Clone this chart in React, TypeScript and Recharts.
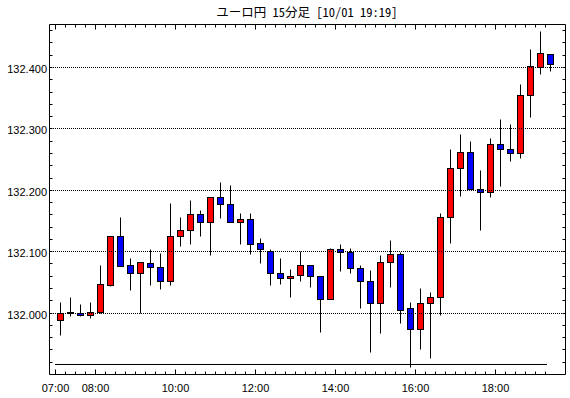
import React from 'react';
import { ComposedChart, Bar, XAxis, YAxis, ReferenceLine } from 'recharts';

const title = 'ユーロ円 15分足 [10/01 19:19]';

const times = [
  '07:00', '07:15', '07:30', '07:45', '08:00', '08:15', '08:30', '08:45', '09:00', '09:15',
  '09:30', '09:45', '10:00', '10:15', '10:30', '10:45', '11:00', '11:15', '11:30', '11:45',
  '12:00', '12:15', '12:30', '12:45', '13:00', '13:15', '13:30', '13:45', '14:00', '14:15',
  '14:30', '14:45', '15:00', '15:15', '15:30', '15:45', '16:00', '16:15', '16:30', '16:45',
  '17:00', '17:15', '17:30', '17:45', '18:00', '18:15', '18:30', '18:45', '19:00', '19:15',
];

const opens = [
  131.988, 132.001, 131.999, 131.996, 132.001, 132.045, 132.124, 132.077, 132.065, 132.080,
  132.074, 132.052, 132.124, 132.134, 132.160, 132.147, 132.189, 132.177, 132.147, 132.152,
  132.113, 132.101, 132.064, 132.056, 132.061, 132.077, 132.059, 132.022, 132.103, 132.098,
  132.072, 132.051, 132.015, 132.083, 132.095, 132.007, 131.973, 132.015, 132.025, 132.155,
  132.236, 132.262, 132.202, 132.197, 132.275, 132.267, 132.260, 132.354, 132.400, 132.421,
];
const highs = [
  132.018, 132.025, 132.014, 132.017, 132.077, 132.124, 132.155, 132.089, 132.082, 132.103,
  132.097, 132.178, 132.155, 132.183, 132.167, 132.189, 132.212, 132.207, 132.163, 132.163,
  132.121, 132.103, 132.089, 132.071, 132.100, 132.077, 132.059, 132.106, 132.111, 132.105,
  132.077, 132.069, 132.094, 132.118, 132.099, 132.018, 132.040, 132.033, 132.163, 132.267,
  132.291, 132.280, 132.232, 132.285, 132.315, 132.307, 132.372, 132.429, 132.459, 132.421,
];
const lows = [
  131.964, 131.995, 131.994, 131.992, 132.000, 132.043, 132.076, 132.037, 132.000, 132.045,
  132.039, 132.045, 132.109, 132.112, 132.125, 132.093, 132.154, 132.147, 132.112, 132.096,
  132.081, 132.045, 132.047, 132.026, 132.052, 132.041, 131.969, 132.022, 132.068, 132.065,
  132.008, 131.936, 131.966, 132.041, 131.983, 131.911, 131.940, 131.926, 131.996, 132.113,
  132.190, 132.202, 132.135, 132.189, 132.206, 132.247, 132.251, 132.318, 132.389, 132.394,
];
const closes = [
  132.000, 131.999, 131.996, 132.001, 132.046, 132.124, 132.076, 132.065, 132.082, 132.074,
  132.052, 132.124, 132.134, 132.160, 132.147, 132.189, 132.177, 132.147, 132.152, 132.112,
  132.103, 132.064, 132.057, 132.059, 132.077, 132.059, 132.022, 132.103, 132.098, 132.072,
  132.051, 132.016, 132.083, 132.095, 132.005, 131.973, 132.015, 132.025, 132.155, 132.236,
  132.262, 132.202, 132.197, 132.275, 132.267, 132.260, 132.354, 132.402, 132.423, 132.405,
];

const xTickLabels = ['07:00', '08:00', '10:00', '12:00', '14:00', '16:00', '18:00'];
const yTickLabels = ['132.000', '132.100', '132.200', '132.300', '132.400'];
const lowLine = 131.917;

const toMin = (s: string) => {
  const [h, m] = s.split(':').map(Number);
  return h * 60 + m;
};

const SLOT = 15;
const data = times.map((t, i) => ({
  t: toMin(t) + SLOT / 2,
  range: [lows[i], highs[i]],
  open: opens[i],
  high: highs[i],
  low: lows[i],
  close: closes[i],
}));

const firstMin = toMin(times[0]);
const lastMin = toMin(times[times.length - 1]);
const xDomain = [firstMin - 9, lastMin + 2 * SLOT];
const yDomain = [131.9, 132.47];

const xTicks: number[] = times.map((t) => toMin(t));
const xMajor = new Set(xTickLabels.map(toMin));
const yTicks: number[] = [];
for (let k = 13192; k <= 13246; k += 2) yTicks.push(k / 100);
const yMajor = new Set(yTickLabels.map((s) => Math.round(parseFloat(s) * 100)));

const snap = (v: number) => Math.round(v - 0.5) + 0.5;
const FONT = '"Liberation Sans", Arial, sans-serif';

const fmtMin = (m: number) => {
  const h = Math.floor(m / 60);
  const mm = m % 60;
  return `${String(h).padStart(2, '0')}:${String(mm).padStart(2, '0')}`;
};

const BottomTick = (props: any) => {
  const { x, y, payload } = props;
  const v = payload.value;
  const major = xMajor.has(v);
  const cx = snap(x);
  const cy = snap(y);
  return (
    <g>
      <line x1={cx} x2={cx} y1={cy} y2={cy - (major ? 5 : 3)} stroke="#000" />
      {major && (
        <text x={cx} y={cy + 17.5} textAnchor="middle" fontSize={11} fontFamily={FONT} fill="#000">
          {fmtMin(v)}
        </text>
      )}
    </g>
  );
};

const TopTick = (props: any) => {
  const { x, y, payload } = props;
  const major = xMajor.has(payload.value);
  const cx = snap(x);
  const cy = snap(y);
  return <line x1={cx} x2={cx} y1={cy} y2={cy + (major ? 5 : 3)} stroke="#000" />;
};

const LeftTick = (props: any) => {
  const { x, y, payload } = props;
  const v = payload.value;
  const major = yMajor.has(Math.round(v * 100));
  const cy = snap(y);
  const cx = snap(x);
  return (
    <g>
      <line x1={cx} x2={cx + 3} y1={cy} y2={cy} stroke="#000" />
      {major && (
        <text x={cx - 2.5} y={cy + 5} textAnchor="end" fontSize={11} fontFamily={FONT} fill="#000">
          {v.toFixed(3)}
        </text>
      )}
    </g>
  );
};

const RightTick = (props: any) => {
  const { x, y } = props;
  const cy = snap(y);
  const cx = snap(x);
  return <line x1={cx} x2={cx - 3} y1={cy} y2={cy} stroke="#000" />;
};

const GridShape = (p: any) => {
  const y = snap(p.y1);
  return <line x1={Math.round(p.x1) + 1} x2={Math.round(p.x2)} y1={y} y2={y} stroke="#000" strokeDasharray="1 1" />;
};

const FlatShape = (p: any) => {
  const y = snap(p.y1);
  return <line x1={Math.round(p.x1)} x2={Math.round(p.x2) + 1} y1={y} y2={y} stroke="#000" />;
};

const Candle = (props: any) => {
  const { x, y, width, height } = props;
  const p = props.payload || props;
  if (p == null || p.high == null) return null;
  const topY = Math.min(y, y + height);
  const h = Math.abs(height);
  const cx = snap(x + width / 2);
  const span = p.high - p.low;
  const k = span > 0 ? h / span : 0;
  const yOf = (v: number) => topY + (p.high - v) * k;
  const yH = snap(topY);
  const yL = snap(topY + h);
  const bTop = snap(yOf(Math.max(p.open, p.close)));
  let bBot = snap(yOf(Math.min(p.open, p.close)));
  if (bBot - bTop < 1) bBot = bTop + 1;
  const up = p.close >= p.open;
  return (
    <g>
      <line x1={cx} x2={cx} y1={yH} y2={yL} stroke="#000" />
      <rect x={cx - 3} y={bTop} width={6} height={bBot - bTop} fill={up ? '#ff0000' : '#0000ff'} stroke="#000" />
    </g>
  );
};

export default function App() {
  return (
    <div style={{ position: 'absolute', left: 0, top: 0, width: 570, height: 398, background: '#fff' }}>
      <svg width={570} height={24} style={{ position: 'absolute', left: 0, top: 0 }}>
        <text
          x={307}
          y={17}
          textAnchor="middle"
          fontSize={12.5}
          fontFamily='"Noto Sans Mono CJK JP", "Noto Sans CJK JP", sans-serif'
          fill="#000"
        >
          {title}
        </text>
      </svg>
      <div style={{ position: 'absolute', left: 0, top: 0 }}>
        <ComposedChart
          width={570}
          height={398}
          data={data}
          margin={{ top: 23.5, right: 3.5, bottom: 22.5, left: 48.5 }}
        >
          <XAxis
            xAxisId="bottom"
            dataKey="t"
            type="number"
            domain={xDomain}
            allowDataOverflow
            ticks={xTicks}
            interval={0}
            height={1}
            tickSize={0}
            tickMargin={0}
            tickLine={false}
            axisLine={{ stroke: '#000' }}
            tick={<BottomTick />}
          />
          <XAxis
            xAxisId="top"
            orientation="top"
            dataKey="t"
            type="number"
            domain={xDomain}
            allowDataOverflow
            ticks={xTicks}
            interval={0}
            height={1}
            tickSize={0}
            tickMargin={0}
            tickLine={false}
            axisLine={{ stroke: '#000' }}
            tick={<TopTick />}
          />
          <YAxis
            yAxisId="left"
            type="number"
            domain={yDomain}
            allowDataOverflow
            ticks={yTicks}
            interval={0}
            width={1}
            tickSize={0}
            tickMargin={0}
            tickLine={false}
            axisLine={{ stroke: '#000' }}
            tick={<LeftTick />}
          />
          <YAxis
            yAxisId="right"
            orientation="right"
            type="number"
            domain={yDomain}
            allowDataOverflow
            ticks={yTicks}
            interval={0}
            width={1}
            tickSize={0}
            tickMargin={0}
            tickLine={false}
            axisLine={{ stroke: '#000' }}
            tick={<RightTick />}
          />
          {yTickLabels.map((s) => (
            <ReferenceLine
              key={s}
              xAxisId="bottom"
              yAxisId="left"
              y={parseFloat(s)}
              stroke="#000"
              strokeDasharray="1 1"
              shape={GridShape}
            />
          ))}
          <ReferenceLine
            xAxisId="bottom"
            yAxisId="left"
            segment={[
              { x: firstMin, y: lowLine },
              { x: lastMin, y: lowLine },
            ]}
            stroke="#000"
            shape={FlatShape}
          />
          <Bar
            xAxisId="bottom"
            yAxisId="left"
            dataKey="range"
            barSize={7}
            isAnimationActive={false}
            shape={<Candle />}
          />
        </ComposedChart>
      </div>
    </div>
  );
}
